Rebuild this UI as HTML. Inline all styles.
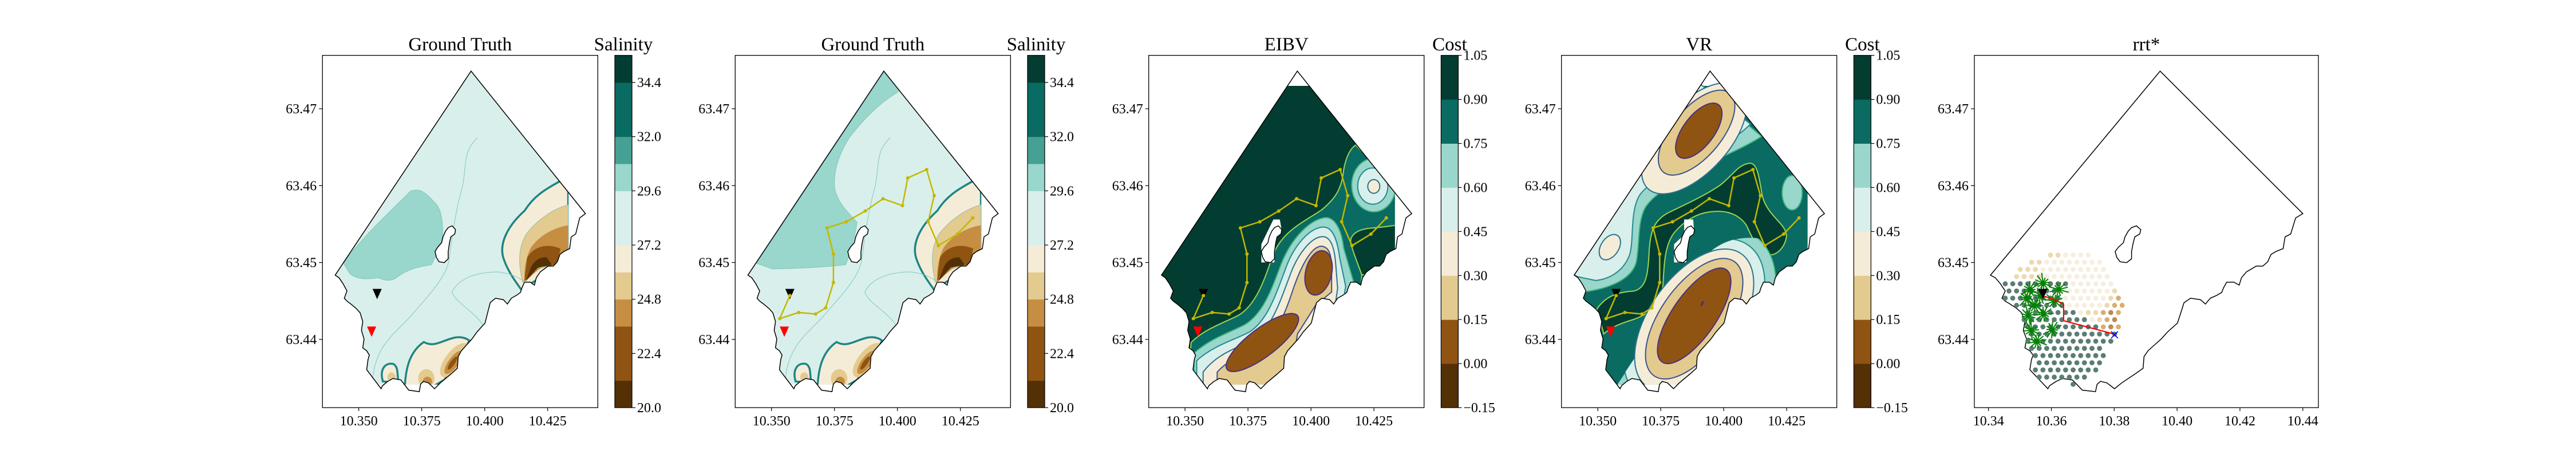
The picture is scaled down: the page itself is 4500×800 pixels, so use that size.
<!DOCTYPE html>
<html><head><meta charset="utf-8">
<style>
html,body{margin:0;padding:0;background:#fff}
svg{display:block}
text{font-family:"Liberation Serif","DejaVu Serif",serif;fill:#000}
.ct *{vector-effect:non-scaling-stroke}
</style></head>
<body>
<svg id="fig" xmlns="http://www.w3.org/2000/svg" width="4500" height="800" viewBox="0 0 4500 800">
<rect width="4500" height="800" fill="#fff"/>
<defs id="defs"></defs>
</svg>
<script>
// ---------- data ----------
const salinityLevels=[20.0,21.2,23.6,24.8,26.0,27.2,29.6,30.8,32.0,34.4,35.6];
const salinityColors=['#543005','#8f5412','#c68e43','#e3ca8f','#f5ecd8','#d9efeb','#99d6cb','#46a093','#0a6b62','#033d31'];
const salinityTicks=[20.0,22.4,24.8,27.2,29.6,32.0,34.4];
const costLevels=[-0.15,0,0.15,0.30,0.45,0.60,0.75,0.90,1.05];
const costColors=['#543005','#8f5412','#e3ca8f','#f5ecd8','#d9efeb','#99d6cb','#0a6b62','#033d31'];
const costTicks=[-0.15,0.00,0.15,0.30,0.45,0.60,0.75,0.90,1.05];
const xTicksA=[10.350,10.375,10.400,10.425];
const xTicksB=[10.34,10.36,10.38,10.40,10.42,10.44];
const yTicks=[63.44,63.45,63.46,63.47];
const pathLon=[10.3573,10.3533,10.3608,10.3675,10.3715,10.3746,10.3746,10.3720,10.3797,10.3872,10.3943,10.4020,10.4041,10.4116,10.4146,10.4122,10.4163,10.4238,10.4299];
const pathLat=[63.4457,63.4427,63.4435,63.4433,63.4441,63.4474,63.4511,63.4545,63.4553,63.4567,63.4583,63.4574,63.4610,63.4621,63.4587,63.4553,63.4522,63.4537,63.4558];
const startLon=10.3573, startLat=63.4459;
const redLon=10.3551, redLat=63.4410;
const rrtLon=[10.35733,10.36098,10.3639,10.3639,10.38008];
const rrtLat=[63.44566,63.44516,63.44459,63.44243,63.44068];
const goalLon=10.3801, goalLat=63.4406;
const treeLon=[10.35315,10.35733,10.36234,10.35649,10.35472,10.35754,10.35263,10.36098,10.36025,10.35367,10.35545,10.35211];
const treeLat=[63.44649,63.44733,63.44649,63.44566,63.4444,63.44327,63.44308,63.44497,63.44125,63.44118,63.43973,63.44535];
const gridLat0=63.45097, gridLatStep=-0.000934, gridLon0=10.34532, gridLonStep=0.0024;
const gridRows=[[6,"bbcccc"],[3,"bbcccccccc"],[2,"bbbccccccccc"],[1,"bbbbccccccccc"],[0,"DDDDDDDDDcccccc"],[0,"DDDDDDDcccccccb"],[0,"DDDDDDDDccccccbt"],[1,"DDDDDDDcccccbtt"],[3,"DDDDDDDcbbtrt"],[2,"DDDDDDDDDcbtr"],[3,"DDDDDDDDDDtrt"],[3,"DDDDDDDDDDDD"],[3,"DDDDDDDDDDDD"],[3,"DDDDDDDDDD"],[4,"DDDDDDDDDD"],[4,"DDDDDDDDD"],[4,"DDDDDDDDD"],[4,"DDDDDDD"],[9,"D"]];
const dotColor={D:'#5a7d74',c:'#f6efdf',b:'#edd9ad',t:'#d9ae71',r:'#b98a55'};
// coastline geometry (traced reference coords -> lon/lat)
const coastRaw=[220,941,737,242,1172,730,1150,745,1135,800,1118,810,1112,850,1090,860,1075,870,1065,895,1050,910,1030,910,1000,930,985,950,978,975,962,965,940,965,930,985,925,1000,910,1010,890,1020,875,1040,860,1025,830,1020,810,1035,800,1070,790,1105,760,1135,740,1160,720,1180,700,1200,688,1220,685,1260,660,1280,620,1310,598,1330,575,1310,555,1305,545,1315,540,1340,500,1335,470,1300,440,1295,420,1305,400,1320,395,1330,340,1265,345,1230,350,1215,340,1200,325,1190,330,1160,320,1130,325,1100,315,1070,300,1055,280,1040,265,1030,255,1020,265,995,250,970,235,950];
const islandRaw=[600,860,610,845,625,830,630,810,640,790,650,778,665,772,678,785,675,800,660,810,655,830,650,860,650,885,635,898,615,895,605,880];
function toLL(r){const o=[];for(let i=0;i<r.length;i+=2)o.push([10.34+(r[i]-214)/9580,63.47-(r[i+1]-371)/26333]);return o;}
const coastLL=toLL(coastRaw), islandLL=toLL(islandRaw);

// ---------- helpers ----------
const NS='http://www.w3.org/2000/svg';
const svg=document.getElementById('fig');
const defs=document.getElementById('defs');
function mk(tag,attrs,parent){const e=document.createElementNS(NS,tag);for(const k in attrs)e.setAttribute(k,attrs[k]);(parent||svg).appendChild(e);return e;}
const TOP=96.7, BOT=712;
function sy(lat){return 190+(63.47-lat)*13427;}
function makeAxes(L,W,kind){
  if(kind==='A') return {L:L,W:W,sx:lon=>L+63.4+(lon-10.35)*4400};
  return {L:L,W:W,sx:lon=>L+24.7+(lon-10.34)*5491};
}
function polyD(ll,ax){return 'M'+ll.map(p=>ax.sx(p[0]).toFixed(1)+','+sy(p[1]).toFixed(1)).join(' L')+' Z';}

// ---------- contour shape markup ----------
const GT_BASE=`<rect x="0" y="0" width="1000" height="1600" fill="#d9efeb"/>`;
const GT_BROWN=`
<path d="M590,620 C560,650 540,670 522,720 C490,770 472,830 480,880 C488,925 503,960 515,990 L545,958 L572,905 L607,880 L607,600 Z" fill="#f5ecd8" stroke="#1f8585" stroke-width="3.5"/>
<path d="M607,700 C575,715 545,755 525,800 C508,850 510,905 518,965 L550,920 L607,885 Z" fill="#e3ca8f" stroke="#8fbfb5" stroke-width="1"/>
<path d="M607,770 C575,780 548,810 533,850 C522,895 520,935 523,962 L555,912 L607,885 Z" fill="#c68e43"/>
<path d="M592,850 C562,828 538,848 527,880 L521,962 L548,915 L585,905 Z" fill="#8f5412"/>
<path d="M565,880 C548,878 536,898 531,930 L524,962 L548,915 L575,905 Z" fill="#543005"/>
<path d="M288,1320 C290,1250 300,1200 325,1170 C345,1190 360,1165 385,1155 C400,1150 410,1160 414,1165 L395,1230 L365,1300 L345,1320 Z" fill="#f5ecd8" stroke="#1f8585" stroke-width="3.5"/>
<ellipse cx="385" cy="1232" rx="20" ry="62" transform="rotate(20 385 1232)" fill="#e3ca8f"/>
<ellipse cx="383" cy="1240" rx="11" ry="42" transform="rotate(20 383 1240)" fill="#c68e43"/>
<ellipse cx="381" cy="1242" rx="5" ry="24" transform="rotate(20 381 1242)" fill="#8f5412"/>
<ellipse cx="330" cy="1295" rx="16" ry="32" fill="#e3ca8f"/>
<ellipse cx="332" cy="1305" rx="9" ry="16" fill="#c68e43"/>
<path d="M245,1305 C238,1262 250,1240 265,1245 C277,1255 272,1290 276,1310 Z" fill="#f5ecd8" stroke="#1f8585" stroke-width="3.5"/>
<ellipse cx="262" cy="1290" rx="8" ry="16" fill="#e3ca8f"/>
<path d="M430,470 C400,520 410,560 400,640 C390,700 380,800 375,880 C372,940 340,1000 300,1080 C270,1140 230,1180 225,1300" fill="none" stroke="#80c8bd" stroke-width="1"/>
<path d="M440,1110 C420,1060 390,1040 380,1000 C390,960 420,930 470,930 C520,940 540,990 515,990" fill="none" stroke="#80c8bd" stroke-width="1"/>`;
const GT1_BLOB=`<path d="M168,900 C200,820 260,720 300,652 C315,645 325,650 345,690 C360,712 362,760 362,800 C358,845 350,870 340,905 C320,912 300,915 275,945 C262,965 250,960 235,950 C215,955 195,958 180,935 Z" fill="#99d6cb" stroke="#80c8bd" stroke-width="1"/>`;
const GT2_BLOB=`<path d="M168,900 L418,245 L448,310 C420,340 390,380 350,470 C325,540 318,600 322,650 C330,700 350,730 365,760 C362,800 355,850 343,905 C300,915 240,918 200,920 Z" fill="#99d6cb" stroke="#80c8bd" stroke-width="1"/>`;
const EIBV_SHAPES=`
<rect x="0" y="0" width="1600" height="1800" fill="#033d31"/>
<path d="M230,1345 C300,1270 400,1240 470,1200 C560,1140 600,1000 640,880 C690,760 780,720 880,650 C950,590 980,540 990,440 C1000,380 1020,330 1050,310 L1400,700 L1400,1000 L1080,990 L1050,1800 L200,1800 Z" fill="#0a6b62" stroke="#9ad455" stroke-width="2"/>
<path d="M1030,840 C1010,790 1050,750 1130,745 C1200,740 1240,730 1260,730 L1260,990 L1080,990 C1060,930 1040,880 1030,840 Z" fill="#033d31" stroke="#9ad455" stroke-width="2"/>
<ellipse cx="1140" cy="520" rx="110" ry="140" fill="#99d6cb" stroke="#3fb37f" stroke-width="2"/>
<ellipse cx="1135" cy="525" rx="75" ry="95" fill="#d9efeb" stroke="#23898e" stroke-width="2"/>
<ellipse cx="1140" cy="527" rx="30" ry="36" fill="#f5ecd8" stroke="#2c728e" stroke-width="2"/>
<path d="M245,1400 C330,1320 430,1290 500,1250 C590,1190 630,1070 680,930 C730,800 820,700 900,690 C950,690 980,760 990,850 L1040,1030 L900,1800 L245,1800 Z" fill="#99d6cb" stroke="#3fb37f" stroke-width="2"/>
<path d="M258,1440 C340,1360 450,1330 520,1290 C610,1230 650,1100 700,960 C740,840 820,740 890,740 C940,740 960,820 970,900 L1000,1050 L880,1800 L258,1800 Z" fill="#d9efeb" stroke="#23898e" stroke-width="2"/>
<path d="M290,1500 C360,1400 470,1370 540,1330 C630,1270 670,1140 720,1000 C760,880 830,790 885,790 C930,790 945,860 950,930 L960,1060 L860,1800 L290,1800 Z" fill="#f5ecd8" stroke="#2c728e" stroke-width="2"/>
<path d="M360,1500 C420,1430 500,1400 570,1360 C660,1300 700,1190 740,1060 C780,940 830,840 880,840 C925,845 930,900 930,980 L930,1080 L850,1150 L760,1300 L680,1800 L360,1800 Z" fill="#e3ca8f" stroke="#3b528b" stroke-width="2"/>
<ellipse cx="585" cy="1345" rx="72" ry="225" transform="rotate(51 585 1345)" fill="#8f5412" stroke="#4b2e83" stroke-width="2"/>
<ellipse cx="865" cy="980" rx="65" ry="118" transform="rotate(12 865 980)" fill="#8f5412" stroke="#4b2e83" stroke-width="2"/>
<path d="M640,700 L672,700 L682,760 L652,800 L645,925 L580,925 L580,830 Z" fill="#fff"/>`;
const VR_SHAPES=`
<rect x="0" y="0" width="1600" height="1800" fill="#0a6b62"/>
<path d="M140,990 L770,-10 L1075,265 C980,330 850,380 760,440 C650,510 540,560 495,640 C455,720 470,840 450,930 C425,1010 330,1060 190,1080 Z" fill="#99d6cb" stroke="#3fb37f" stroke-width="2"/>
<path d="M140,990 L770,-10 L1020,200 C940,290 820,330 720,390 C620,450 520,500 470,570 C420,650 440,800 420,880 C395,960 330,1010 250,1020 L160,1000 Z" fill="#d9efeb" stroke="#23898e" stroke-width="2"/>
<ellipse cx="740" cy="275" rx="350" ry="175" transform="rotate(-50 740 275)" fill="#f5ecd8" stroke="#2c728e" stroke-width="2"/>
<ellipse cx="752" cy="245" rx="265" ry="125" transform="rotate(-52 752 245)" fill="#e3ca8f" stroke="#3b528b" stroke-width="2"/>
<ellipse cx="763" cy="235" rx="168" ry="78" transform="rotate(-55 763 235)" fill="#8f5412" stroke="#4b2e83" stroke-width="2"/>
<ellipse cx="320" cy="845" rx="45" ry="72" transform="rotate(30 320 845)" fill="#f5ecd8" stroke="#2c728e" stroke-width="2"/>
<ellipse cx="1228" cy="560" rx="50" ry="90" fill="#99d6cb" stroke="#3fb37f" stroke-width="2"/>
<path d="M255,1170 C300,1100 360,1080 440,1075 C500,1060 510,990 515,880 C520,760 540,700 620,660 C720,610 800,570 870,520 C940,460 960,410 1020,405 C1060,410 1065,500 1080,580 C1110,690 1200,720 1200,790 C1190,850 1150,890 1110,885 C1060,870 1030,800 1000,730 C960,670 900,650 820,660 C740,670 680,720 640,770 C590,840 590,950 585,1040 C575,1140 520,1200 420,1230 C360,1250 320,1270 290,1300 Z" fill="#033d31" stroke="#9ad455" stroke-width="2"/>
<ellipse cx="740" cy="1235" rx="335" ry="540" transform="rotate(33 740 1235)" fill="#99d6cb" stroke="#3fb37f" stroke-width="2" clip-path="url(#vrSE)"/>
<ellipse cx="740" cy="1232" rx="280" ry="480" transform="rotate(33 740 1232)" fill="#d9efeb" stroke="#23898e" stroke-width="2" clip-path="url(#vrSE)"/>
<ellipse cx="740" cy="1228" rx="225" ry="420" transform="rotate(33 740 1228)" fill="#f5ecd8" stroke="#2c728e" stroke-width="2"/>
<ellipse cx="740" cy="1220" rx="170" ry="360" transform="rotate(33 740 1220)" fill="#e3ca8f" stroke="#3b528b" stroke-width="2"/>
<ellipse cx="740" cy="1205" rx="110" ry="290" transform="rotate(33 740 1205)" fill="#8f5412" stroke="#4b2e83" stroke-width="2"/>
<ellipse cx="780" cy="1140" rx="5" ry="15" transform="rotate(20 780 1140)" fill="#4b2e83"/>
<path d="M690,700 L735,700 L740,770 L705,800 L700,925 L640,925 L640,830 L690,780 Z" fill="#fff"/>`;

(function(){const c=mk('clipPath',{id:'vrSE',clipPathUnits:'userSpaceOnUse'},defs);
mk('path',{d:'M600,1800 L590,1000 C600,850 650,760 760,700 C850,660 950,700 1010,760 L1100,880 L1400,900 L1400,1800 Z'},c);})();

// ---------- panels ----------
const panels=[
 {L:563.3,title:'Ground Truth',cb:'Salinity',shapes:GT_BASE+GT1_BLOB+GT_BROWN,tf:'translate(563.3,0.8) scale(0.8943,0.5099) translate(-127,0)',path:false,name:'ground-truth-1'},
 {L:1284.3,title:'Ground Truth',cb:'Salinity',shapes:GT_BASE+GT2_BLOB+GT_BROWN,tf:'translate(1284.3,0.8) scale(0.8943,0.5099) translate(-127,0)',path:true,name:'ground-truth-2'},
 {L:2006.7,title:'EIBV',cb:'Cost',shapes:EIBV_SHAPES,tf:'translate(2000,150) scale(0.35075,0.33333)',path:true,name:'eibv'},
 {L:2727.7,title:'VR',cb:'Cost',shapes:VR_SHAPES,tf:'translate(2700,150) scale(0.35075,0.33333)',path:true,name:'vr'}
];

function drawTri(x,y,color,parent,name){
  const t=mk('path',{d:`M${x-8},${y-9} L${x+8},${y-9} L${x},${y+9} Z`,fill:color},parent);
  
  
  return t;
}

function drawAxesFrame(ax,g,xt,fmt){
  const fr=mk('rect',{x:ax.L,y:TOP,width:ax.W,height:BOT-TOP,fill:'none',stroke:'#000','stroke-width':1.3},g);
  
  
  xt.forEach(v=>{
    const x=ax.sx(v);
    const tk=mk('line',{x1:x,x2:x,y1:BOT,y2:BOT+6,stroke:'#000','stroke-width':1.2},g);
    
    
    const tl=mk('text',{x:x,y:BOT+31,'text-anchor':'middle','font-size':24},g);
    
    
    tl.textContent=v.toFixed(fmt);
  });
  yTicks.forEach(v=>{
    const y=sy(v);
    const tk=mk('line',{x1:ax.L-6,x2:ax.L,y1:y,y2:y,stroke:'#000','stroke-width':1.2},g);
    
    
    const tl=mk('text',{x:ax.L-10,y:y+8,'text-anchor':'end','font-size':24},g);
    
    
    tl.textContent=v.toFixed(2);
  });
}

function drawColorbar(x,g,levels,colors,ticks,fmt,title){
  const lo=levels[0],hi=levels[levels.length-1];
  const cy=v=>BOT-(v-lo)/(hi-lo)*(BOT-TOP);
  for(let i=0;i<colors.length;i++){
    const r=mk('rect',{x:x,y:cy(levels[i+1]),width:30,height:cy(levels[i])-cy(levels[i+1])+0.5,fill:colors[i]},g);
    
    
  }
  const fr=mk('rect',{x:x,y:TOP,width:30,height:BOT-TOP,fill:'none',stroke:'#000','stroke-width':1.2},g);
  
  
  ticks.forEach(v=>{
    const y=cy(v);
    const tk=mk('line',{x1:x+30,x2:x+36,y1:y,y2:y,stroke:'#000','stroke-width':1.2},g);
    
    
    const tl=mk('text',{x:x+39,y:y+8,'font-size':24},g);
    
    
    tl.textContent=(v<0?'\u2212':'')+Math.abs(v).toFixed(fmt);
  });
  const t=mk('text',{x:x+15,y:88,'text-anchor':'middle','font-size':33},g);
  
  
  t.textContent=title;
}

panels.forEach((p,i)=>{
  const ax=makeAxes(p.L,481,'A');
  const g=mk('g',{});
  
  
  const cp=mk('clipPath',{id:'coast'+i},defs);
  mk('path',{d:polyD(coastLL,ax)},cp);
  const cr=mk('clipPath',{id:'rect'+i},defs);
  mk('rect',{x:p.L,y:TOP,width:430,height:575},cr);
  const g1=mk('g',{'clip-path':`url(#coast${i})`},g);
  const g2=mk('g',{'clip-path':`url(#rect${i})`},g1);
  const g3=mk('g',{transform:p.tf,class:'ct'},g2);
  
  
  g3.innerHTML=p.shapes;
  const island=mk('path',{d:polyD(islandLL,ax),fill:'#fff',stroke:'#000','stroke-width':1.5},g);
  
  
  const coast=mk('path',{d:polyD(coastLL,ax),fill:'none',stroke:'#000','stroke-width':1.5},g);
  
  
  drawTri(ax.sx(redLon),sy(redLat),'#ff0000',g,'end-marker');
  drawTri(ax.sx(startLon),sy(startLat),'#000',g,'start-marker');
  if(p.path){
    const pts=pathLon.map((lo,k)=>ax.sx(lo).toFixed(1)+','+sy(pathLat[k]).toFixed(1)).join(' ');
    const pl=mk('polyline',{points:pts,fill:'none',stroke:'#c3b800','stroke-width':2.5},g);
    
    
    pathLon.forEach((lo,k)=>{
      const c=mk('circle',{cx:ax.sx(lo),cy:sy(pathLat[k]),r:3,fill:'#c3b800'},g);
      
      
    });
  }
  drawAxesFrame(ax,g,xTicksA,3);
  const t=mk('text',{x:p.L+240.5,y:88,'text-anchor':'middle','font-size':33},g);
  
  
  t.textContent=p.title;
  if(p.cb==='Salinity') drawColorbar(p.L+510.7,g,salinityLevels,salinityColors,salinityTicks,1,'Salinity');
  else drawColorbar(p.L+510.7,g,costLevels,costColors,costTicks,2,'Cost');
});

// ---------- rrt* panel ----------
(function(){
  const ax=makeAxes(3449,601,'B');
  const g=mk('g',{});
  
  
  const coast=mk('path',{d:polyD(coastLL,ax),fill:'none',stroke:'#000','stroke-width':1.5},g);
  
  
  const island=mk('path',{d:polyD(islandLL,ax),fill:'none',stroke:'#000','stroke-width':1.5},g);
  
  
  gridRows.forEach((row,ri)=>{
    const lat=gridLat0+ri*gridLatStep;
    const off=(ri%2)?gridLonStep/2:0;
    for(let k=0;k<row[1].length;k++){
      const ch=row[1][k];
      const lon=gridLon0+off+(row[0]+k)*gridLonStep;
      const c=mk('circle',{cx:ax.sx(lon),cy:sy(lat),r:4.4,fill:dotColor[ch]},g);
      
      
    }
  });
  treeLon.forEach((lo,k)=>{
    const x=ax.sx(lo),y=sy(treeLat[k]);
    for(let a=0;a<12;a++){
      const ang=a*Math.PI/6+k*0.4;
      const len=10+((a*7+k*3)%6)*1.6;
      const ln=mk('line',{x1:x,y1:y,x2:x+Math.cos(ang)*len,y2:y+Math.sin(ang)*len,stroke:'#008000','stroke-width':2},g);
      
      
    }
  });
  const pts=rrtLon.map((lo,k)=>ax.sx(lo).toFixed(1)+','+sy(rrtLat[k]).toFixed(1)).join(' ');
  const pl=mk('polyline',{points:pts,fill:'none',stroke:'#ff0000','stroke-width':2.2},g);
  
  
  const gx=ax.sx(goalLon),gy=sy(goalLat);
  const gm=mk('path',{d:`M${gx-6},${gy-6} L${gx+6},${gy+6} M${gx-6},${gy+6} L${gx+6},${gy-6}`,stroke:'#0000ff','stroke-width':1.6},g);
  
  
  drawTri(ax.sx(startLon),sy(startLat),'#000',g,'start-marker');
  drawAxesFrame(ax,g,xTicksB,2);
  const t=mk('text',{x:3449+300.5,y:88,'text-anchor':'middle','font-size':33},g);
  
  
  t.textContent='rrt*';
})();
</script>
</body></html>
